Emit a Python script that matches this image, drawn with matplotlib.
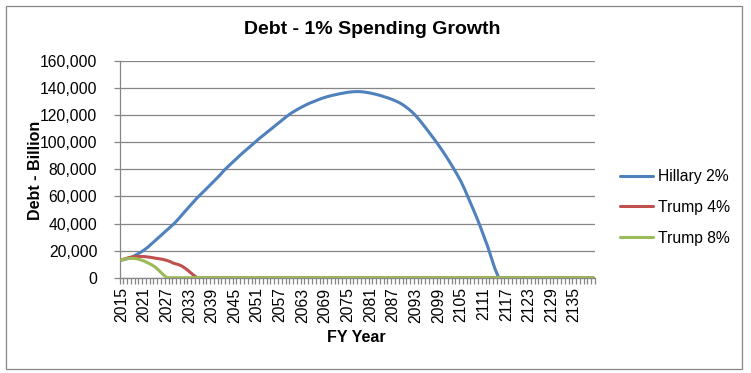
import matplotlib
matplotlib.use("Agg")
import matplotlib.pyplot as plt
from matplotlib.ticker import FuncFormatter, FixedLocator
from matplotlib.patches import Rectangle
import numpy as np

plt.rcParams['font.family'] = ['Liberation Sans', 'DejaVu Sans']

years = list(range(2015, 2141))

hillary_2 = [13000, 13600, 14500, 15600, 17000, 18600, 20400, 22500, 25000, 27500,
             30000, 32500, 35000, 37500, 40000, 43000, 46200, 49400, 52500, 55600,
             58700, 61500, 64200, 67000, 69800, 72600, 75400, 78600, 81400, 84000,
             86600, 89200, 91800, 94200, 96600, 99000, 101500, 103800, 106000, 108300,
             110500, 112800, 115000, 117300, 119500, 121500, 123200, 124800, 126300, 127700,
             129000, 130100, 131200, 132300, 133200, 134000, 134700, 135300, 135900, 136400,
             136900, 137200, 137400, 137400, 137200, 136800, 136300, 135700, 135000, 134200,
             133300, 132400, 131300, 130100, 128700, 126900, 124800, 122400, 119600, 116400,
             112900, 109300, 105600, 101900, 98000, 94000, 89800, 85400, 80800, 76000,
             71000, 65000, 58500, 52000, 45500, 38500, 31000, 23500, 15000, 6500,
             0] + [0] * 25

trump_4 = [13100, 14000, 14800, 15300, 15600, 15700, 15600, 15300, 14900, 14400,
           14000, 13500, 12800, 11800, 10500, 9800, 8600, 6800, 4500, 2200,
           0] + [0] * 105

trump_8 = [13100, 13800, 14200, 14300, 14000, 13300, 12300, 11000, 9600, 7800,
           5200, 2500, 0] + [0] * 113

series = [("Hillary 2%", hillary_2, "#4F81BD"),
          ("Trump 4%", trump_4, "#C0504D"),
          ("Trump 8%", trump_8, "#9BBB59")]

W, H = 751, 373
fig = plt.figure(figsize=(W / 100, H / 100), dpi=100)
ax = fig.add_axes([119.5 / W, 1 - 277.7 / H, (595 - 119.5) / W, (277.7 - 61) / H])

x = np.arange(len(years))
handles = []
for name, vals, col in series:
    h, = ax.plot(x, vals, color=col, lw=2.2, label=name, solid_capstyle='round', zorder=3)
    handles.append(h)

grid_col = "#868686"
ax.set_xlim(-0.5, len(years) - 0.5)
ax.set_ylim(0, 160000)
ax.set_yticks(np.arange(0, 160001, 20000))
ax.yaxis.set_major_formatter(FuncFormatter(lambda v, p: f"{v:,.0f}"))
ax.grid(axis='y', color=grid_col, lw=0.9)
ax.set_axisbelow(True)

lab_idx = list(range(0, len(years), 6))
ax.xaxis.set_major_locator(FixedLocator(lab_idx))
ax.set_xticklabels([str(years[i]) for i in lab_idx], rotation=90, fontsize=11.3)
ax.xaxis.set_minor_locator(FixedLocator(np.arange(-0.5, len(years), 1)))
ax.tick_params(axis='x', which='major', length=0, pad=7)
ax.tick_params(axis='x', which='minor', length=4, color=grid_col, width=0.9)
ax.tick_params(axis='y', length=4, color=grid_col, width=0.9, labelsize=11.3, pad=12)

for s in ['top', 'right']:
    ax.spines[s].set_visible(False)
for s in ['left', 'bottom']:
    ax.spines[s].set_color(grid_col)
    ax.spines[s].set_linewidth(0.9)

fig.text(372 / W, 1 - 30 / H, "Debt - 1% Spending Growth", ha='center', va='center',
         fontsize=14, fontweight='bold')
fig.text(356.7 / W, 1 - 337 / H, "FY Year", ha='center', va='center',
         fontsize=11.5, fontweight='bold')
fig.text(36 / W, 1 - 170 / H, "Debt - Billion", ha='center', va='center',
         rotation=90, fontsize=11.5, fontweight='bold')

fig.legend(handles=handles, loc='upper left', bbox_to_anchor=(606 / W, 1 - 155 / H),
           frameon=False, fontsize=11.3, handlelength=2.1, handletextpad=0.3,
           labelspacing=1.0)

fig.patches.append(Rectangle((5.5 / W, 1 - 368.5 / H), (742 - 5.5) / W, (368.5 - 5.5) / H,
                             transform=fig.transFigure, fill=False, edgecolor=grid_col,
                             lw=0.9))

fig.savefig("out.png", dpi=100)
